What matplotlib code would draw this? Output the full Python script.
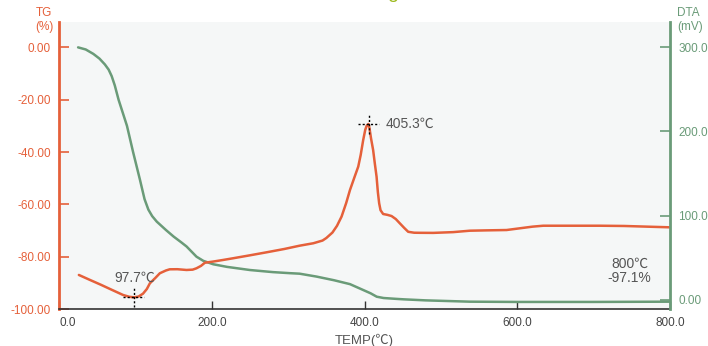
import matplotlib
matplotlib.use("Agg")
import matplotlib.pyplot as plt
import numpy as np

plt.rcParams['font.family'] = ['Liberation Sans', 'Noto Sans CJK SC', 'DejaVu Sans']

# TG curve (green, left axis, %)
tg_temp = [25, 35, 45, 53, 60, 65, 69, 73, 78, 89, 97, 106, 112, 117, 122, 128, 140, 150,
           160, 167, 175, 180, 189, 202, 220, 250, 280, 302, 315, 337, 360, 381, 398, 408,
           416, 425, 440, 451, 480, 538, 600, 700, 800]
tg_val = [0, -0.8, -2.5, -4.3, -6.5, -8.5, -11, -14.5, -20, -30, -40, -50.6, -58, -62, -64.5,
          -66.6, -69.8, -72.3, -74.5, -76.1, -78.5, -80, -81.6, -82.9, -83.9, -85.1, -85.9,
          -86.3, -86.5, -87.6, -89, -90.5, -92.7, -94, -95.3, -95.8, -96.1, -96.3, -96.7,
          -97.2, -97.3, -97.3, -97.2]

# DTA curve (orange, right axis, mV)
dta_temp = [26, 40, 55, 70, 84, 92, 97.7, 104, 110, 115, 119, 126, 132, 140, 145, 155, 167,
            175, 180, 186, 191, 202, 215, 228, 250, 272, 295, 315, 333, 345, 350, 358, 364,
            370, 376, 381, 387, 391.8, 395, 398.3, 401, 403, 405.3, 406.5, 408.5, 411.3,
            413.5, 415.8, 417.5, 419.2, 421, 424.4, 430, 435.4, 441, 446.3, 452, 457.2, 465,
            472.5, 490, 516, 538, 560, 586, 603, 620, 634, 660, 708, 740, 770, 800]
dta_val = [29.7, 24, 18, 11.7, 5.9, 3.8, 3.2, 4, 7.5, 13, 19.8, 26, 31.7, 35, 36.4, 36.5, 35.6,
           36, 37.6, 40.5, 44.2, 45.6, 47.5, 49.5, 53, 56.6, 60.5, 64.4, 67.3, 70.5, 73.5, 80, 88,
           99, 115, 130.5, 146, 158.2, 172, 189.8, 202, 207, 208.8, 204, 192, 177.9,
           162, 146.3, 128, 114.7, 106.5, 102, 101, 99.6, 96, 90.9, 85.5, 80.9, 79.8,
           79.7, 79.6, 80.5, 82.2, 82.6, 83, 85, 87, 88.1, 88.1, 88.1, 87.8, 87, 86.2]

left_ticks = [0, -20, -40, -60, -80, -100]
right_ticks = [0, 100, 200, 300]
x_ticks = [0, 200, 400, 600, 800]

peak_t, peak_v = 405.3, 208.8
min_t, min_v = 97.7, 3.2
end_t, end_tg = 800, -97.1

ORANGE = '#E5603A'
GREEN = '#6A9B78'
GRAY = '#555555'

fig = plt.figure(figsize=(7.08, 3.46), dpi=100)
ax = fig.add_axes([59/708, 1-309/346, (670-59)/708, (309-22)/346])
ax2 = ax.twinx()
ax.set_facecolor('#F5F7F7')

ax.plot(tg_temp, tg_val, color=GREEN, lw=1.8, solid_capstyle='round', solid_joinstyle='round')
ax2.plot(dta_temp, dta_val, color=ORANGE, lw=1.8, solid_capstyle='round', solid_joinstyle='round')

ax.set_xlim(0, 800)
ax.set_ylim(-100, 9.7)
ax2.set_ylim(-10.7, 329.8)

ax.set_yticks(left_ticks)
ax.set_yticklabels([f"{v:.2f}" for v in left_ticks], color=ORANGE, fontsize=8.5)
ax2.set_yticks(right_ticks)
ax2.set_yticklabels([f"{v:.2f}" for v in right_ticks], color=GREEN, fontsize=8.5)
ax.set_xticks(x_ticks)
ax.set_xticklabels([f"{v:.1f}" for v in x_ticks], color='#444444', fontsize=8.5)
ax.get_xticklabels()[0].set_horizontalalignment('left')

ax.tick_params(axis='y', direction='in', length=7, width=1.2, color=ORANGE, pad=6)
ax2.tick_params(axis='y', direction='in', length=7, width=1.2, color=GREEN, pad=6)
ax.tick_params(axis='x', direction='in', length=6, width=1, color='#333333', pad=6)

ax.spines['top'].set_visible(False)
ax2.spines['top'].set_visible(False)
ax.spines['left'].set_color(ORANGE)
ax.spines['left'].set_linewidth(2)
ax2.spines['left'].set_visible(False)
ax.spines['right'].set_visible(False)
ax2.spines['right'].set_color(GREEN)
ax2.spines['right'].set_linewidth(2)
ax.spines['bottom'].set_color('#333333')
ax.spines['bottom'].set_linewidth(1.2)
ax2.spines['bottom'].set_visible(False)

ax.set_xlabel('TEMP(℃)', color=GRAY, fontsize=9.5, labelpad=3)

fig.text(44/708, 1-20/346, 'TG\n(%)', color=ORANGE, fontsize=8.5, ha='center', va='center',
         linespacing=1.3)
fig.text(677/708, 1-20/346, 'DTA\n(mV)', color=GREEN, fontsize=8.5, ha='left', va='center',
         linespacing=1.3)
# clipped title descender at the top
fig.text(393/708, 1.0 + 2.5/346, 'g', color='#9DBA1E', fontsize=14, ha='center', va='baseline')

# crosshair markers
def crosshair(t, v):
    dx = 13.5
    dy = 11.5
    ax2.plot([t - dx, t + dx], [v, v], color='black', lw=1, dashes=(1.5, 1.5))
    ax2.plot([t, t], [v - dy, v + dy], color='black', lw=1, dashes=(1.5, 1.5))

crosshair(peak_t, peak_v)
crosshair(min_t, min_v)

ax2.annotate(f'{peak_t}℃', (peak_t, peak_v), xytext=(12, 0), textcoords='offset points',
             color=GRAY, fontsize=10, ha='left', va='center')
ax2.annotate(f'{min_t}℃', (min_t, min_v), xytext=(1, 14), textcoords='offset points',
             color=GRAY, fontsize=10, ha='center', va='center')
ax.annotate(f'{end_t}℃\n{end_tg}%', (end_t, end_tg), xytext=(-29, 22), textcoords='offset points',
            color=GRAY, fontsize=10, ha='center', va='center', linespacing=1.05)

fig.savefig('out.png', dpi=100)
